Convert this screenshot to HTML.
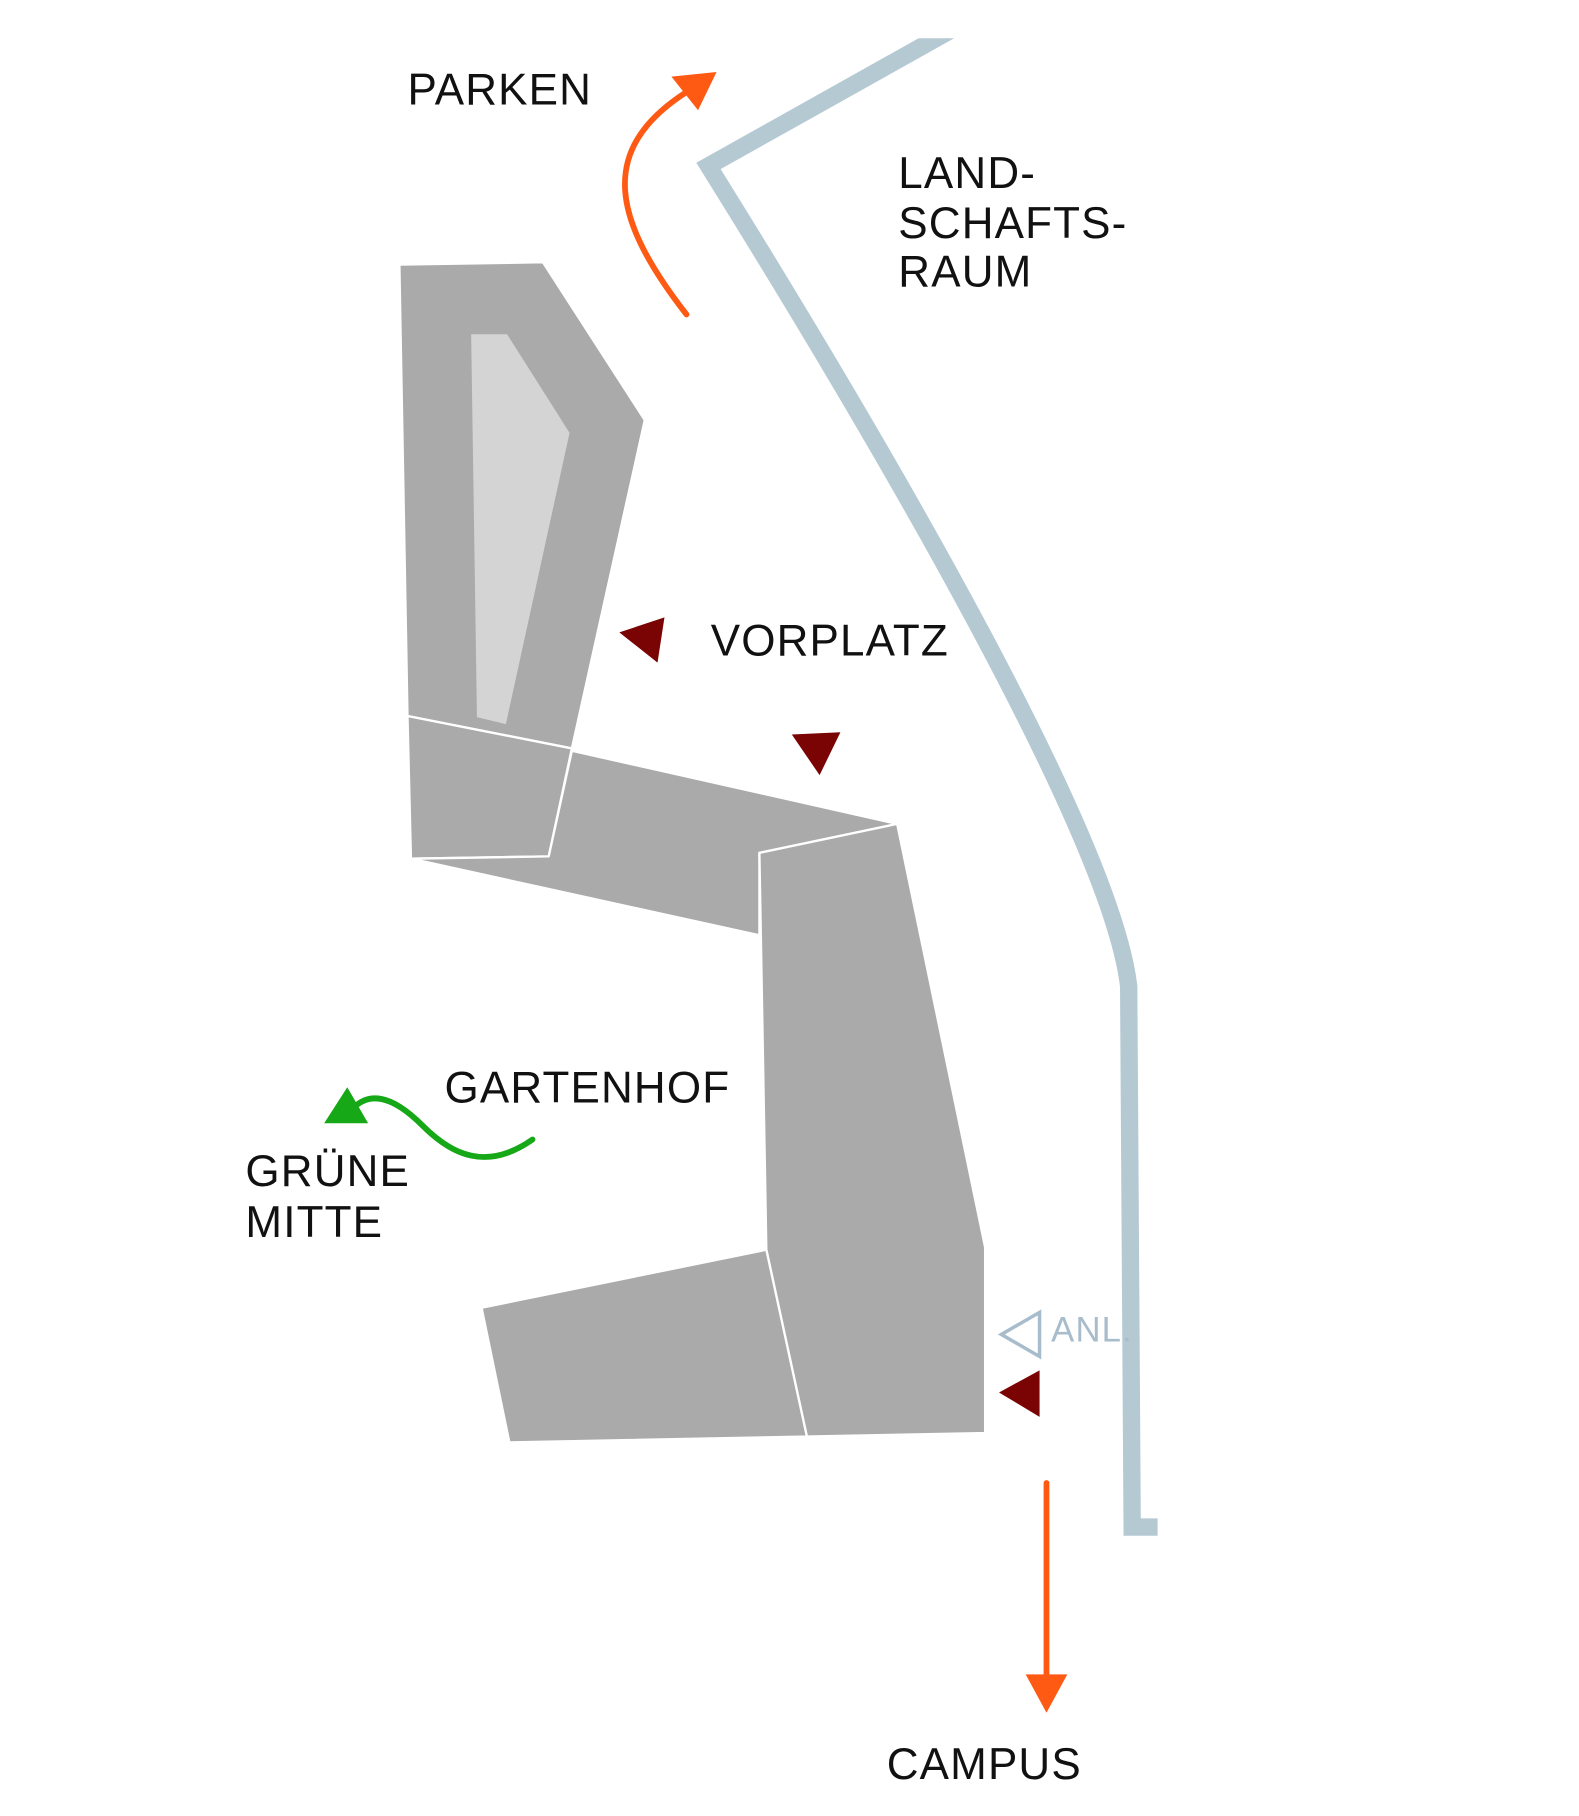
<!DOCTYPE html>
<html><head><meta charset="utf-8"><style>
html,body{margin:0;padding:0;background:#fff;}
svg{display:block;}
text{font-family:"Liberation Sans",sans-serif;font-size:38px;fill:#111;letter-spacing:1px;}
</style></head><body>
<svg width="1579" height="1816" viewBox="0 0 1364 1565" preserveAspectRatio="none" xmlns="http://www.w3.org/2000/svg">
<defs><clipPath id="c"><rect x="0" y="33" width="1364" height="1600"/></clipPath></defs>
<rect width="1364" height="1565" fill="#fff"/>
<path clip-path="url(#c)" d="M850,10 L612,143 C760,380 960,720 975,850 L978,1316 L1000,1316" fill="none" stroke="#b5c9d3" stroke-width="15" stroke-linejoin="miter"/>
<g fill="#aaaaaa" stroke="#fff" stroke-width="2" stroke-linejoin="round">
<polygon points="345,228 469,226 557,362 494,645 352,617"/>
<polygon points="352,617 494,645 474,738 355,740"/>
<polygon points="494,647 775,710 656,735 656,806 355,740 474,738"/>
<polygon points="656,735 775,710 851,1075 851,1235 697,1238 662,1077"/>
<polygon points="416,1127 662,1077 697,1238 440,1243"/>
</g>
<polygon points="407,288 438,288 492,373 437,624 412,618" fill="#d4d4d4"/>
<path d="M593,271 C530,190 515,130 592,80" fill="none" stroke="#ff5a14" stroke-width="5" stroke-linecap="round"/>
<polygon points="580,66 619,62 603,95" fill="#ff5a14"/>
<line x1="904" y1="1278" x2="904" y2="1448" stroke="#ff5a14" stroke-width="5" stroke-linecap="round"/>
<polygon points="886,1443 922,1443 904,1476" fill="#ff5a14"/>
<path d="M460,982 C420,1010 390,995 365,970 C340,945 320,940 305,955" fill="none" stroke="#16a816" stroke-width="5" stroke-linecap="round"/>
<polygon points="280,968 300,937 318,968" fill="#16a816"/>
<g fill="#7a0303">
<polygon points="535,545 574,532 568,571"/>
<polygon points="684,633 726,631 708,668"/>
<polygon points="863,1200 898,1181 898,1221"/>
</g>
<polygon points="865,1150 898,1131 898,1169" fill="none" stroke="#a8bccb" stroke-width="3"/>
<text x="352" y="90">PARKEN</text>
<text x="776" y="162">LAND-</text>
<text x="776" y="205">SCHAFTS-</text>
<text x="776" y="247">RAUM</text>
<text x="614" y="565">VORPLATZ</text>
<text x="384" y="950">GARTENHOF</text>
<text x="212" y="1022">GRÜNE</text>
<text x="212" y="1066">MITTE</text>
<text x="908" y="1156" style="font-size:30px;fill:#a8bccb;">ANL.</text>
<text x="766" y="1533">CAMPUS</text>
</svg>
</body></html>
